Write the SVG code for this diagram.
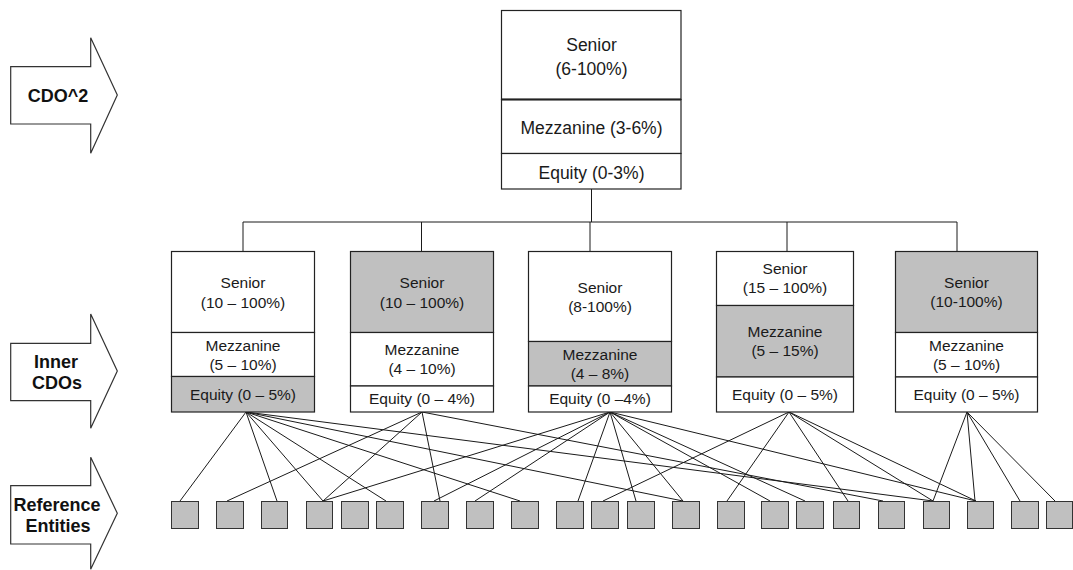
<svg xmlns="http://www.w3.org/2000/svg" width="1073" height="570" viewBox="0 0 1073 570">
<style>
.bx{fill:#ffffff;stroke:#222;stroke-width:1.2}
.g{fill:#c0c0c0;stroke:#222;stroke-width:1.2}
.t{font-family:"Liberation Sans",Arial,sans-serif;font-size:15.5px;fill:#1a1a1a;text-anchor:middle}
.tt{font-family:"Liberation Sans",Arial,sans-serif;font-size:17.5px;fill:#1a1a1a;text-anchor:middle}
.lb{font-family:"Liberation Sans",Arial,sans-serif;font-size:18px;font-weight:bold;fill:#111;text-anchor:middle}
.ar{fill:#fff;stroke:#333;stroke-width:1.2}
.sq{fill:#c0c0c0;stroke:#333;stroke-width:1}
.ln{stroke:#1a1a1a;stroke-width:1;fill:none}
</style>
<rect width="1073" height="570" fill="#fff"/>

<g id="arrow-cdo2">
<polygon class="ar" points="10.7,66.7 90.7,66.7 90.7,37.7 117.3,95 90.7,153.3 90.7,124 10.7,124"/>
<text class="lb" x="58" y="102">CDO^2</text>
</g>
<g id="arrow-inner">
<polygon class="ar" points="10.7,343.3 90.7,343.3 90.7,314 117.3,371 90.7,428.3 90.7,400.7 10.7,400.7"/>
<text class="lb" x="56" y="368">Inner</text>
<text class="lb" x="57" y="389">CDOs</text>
</g>
<g id="arrow-ref">
<polygon class="ar" points="10.7,485.7 90.7,485.7 90.7,457.3 117.3,513.3 90.7,569.3 90.7,544 10.7,544"/>
<text class="lb" x="57" y="511">Reference</text>
<text class="lb" x="58" y="532">Entities</text>
</g>

<g id="connectors">
<line class="ln" x1="591.5" y1="189" x2="591.5" y2="222"/>
<line class="ln" x1="243" y1="222" x2="957" y2="222"/>
<line class="ln" x1="243" y1="222" x2="243" y2="251"/>
<line class="ln" x1="421.5" y1="222" x2="421.5" y2="251"/>
<line class="ln" x1="590" y1="222" x2="590" y2="251"/>
<line class="ln" x1="787" y1="222" x2="787" y2="251"/>
<line class="ln" x1="957" y1="222" x2="957" y2="251"/>
<!-- box1 -->
<line class="ln" x1="246" y1="412" x2="180" y2="501"/>
<line class="ln" x1="246" y1="412" x2="277" y2="501"/>
<line class="ln" x1="246" y1="412" x2="323" y2="501"/>
<line class="ln" x1="246" y1="412" x2="386" y2="501"/>
<line class="ln" x1="246" y1="412" x2="520" y2="501"/>
<line class="ln" x1="246" y1="412" x2="683" y2="501"/>
<line class="ln" x1="246" y1="412" x2="933" y2="501"/>
<!-- box2 -->
<line class="ln" x1="422" y1="412" x2="227" y2="501"/>
<line class="ln" x1="422" y1="412" x2="323" y2="501"/>
<line class="ln" x1="422" y1="412" x2="440" y2="501"/>
<line class="ln" x1="422" y1="412" x2="883" y2="501"/>
<!-- box3 -->
<line class="ln" x1="610" y1="412" x2="323" y2="501"/>
<line class="ln" x1="610" y1="412" x2="434" y2="501"/>
<line class="ln" x1="610" y1="412" x2="475" y2="501"/>
<line class="ln" x1="610" y1="412" x2="578" y2="501"/>
<line class="ln" x1="610" y1="412" x2="636" y2="501"/>
<line class="ln" x1="610" y1="412" x2="683" y2="501"/>
<line class="ln" x1="610" y1="412" x2="770" y2="501"/>
<line class="ln" x1="610" y1="412" x2="805" y2="501"/>
<line class="ln" x1="610" y1="412" x2="976" y2="501"/>
<!-- box4 -->
<line class="ln" x1="789" y1="412" x2="603" y2="501"/>
<line class="ln" x1="789" y1="412" x2="727" y2="501"/>
<line class="ln" x1="789" y1="412" x2="848" y2="501"/>
<line class="ln" x1="789" y1="412" x2="933" y2="501"/>
<line class="ln" x1="789" y1="412" x2="976" y2="501"/>
<!-- box5 -->
<line class="ln" x1="967" y1="412" x2="933" y2="501"/>
<line class="ln" x1="967" y1="412" x2="975" y2="501"/>
<line class="ln" x1="967" y1="412" x2="1020" y2="501"/>
<line class="ln" x1="967" y1="412" x2="1055" y2="501"/>
</g>

<g id="cdo2">
<rect class="bx" x="501.5" y="10.5" width="179.5" height="89"/>
<rect class="bx" x="501.5" y="99.5" width="179.5" height="54"/>
<rect class="bx" x="501.5" y="153.5" width="179.5" height="35.5"/>
<line x1="501.5" y1="99.5" x2="681" y2="99.5" stroke="#222" stroke-width="2"/>
<text class="tt" x="591.5" y="51">Senior</text>
<text class="tt" x="591.5" y="74.5">(6-100%)</text>
<text class="tt" x="591.5" y="134">Mezzanine (3-6%)</text>
<text class="tt" x="591.5" y="178.5">Equity (0-3%)</text>
</g>

<g id="inner1">
<rect class="bx" x="171.5" y="251.5" width="143" height="81"/>
<rect class="bx" x="171.5" y="332.5" width="143" height="44"/>
<rect class="g" x="171.5" y="376.5" width="143" height="35.5"/>
<text class="t" x="243" y="288">Senior</text>
<text class="t" x="243" y="307.5">(10 – 100%)</text>
<text class="t" x="243" y="350.5">Mezzanine</text>
<text class="t" x="243" y="370">(5 – 10%)</text>
<text class="t" x="243" y="399.5">Equity (0 – 5%)</text>
</g>

<g id="inner2">
<rect class="g" x="350.5" y="251.5" width="143" height="81"/>
<rect class="bx" x="350.5" y="332.5" width="143" height="53.5"/>
<rect class="bx" x="350.5" y="386" width="143" height="26"/>
<text class="t" x="422" y="288">Senior</text>
<text class="t" x="422" y="307.5">(10 – 100%)</text>
<text class="t" x="422" y="355">Mezzanine</text>
<text class="t" x="422" y="374">(4 – 10%)</text>
<text class="t" x="422" y="404">Equity (0 – 4%)</text>
</g>

<g id="inner3">
<rect class="bx" x="528.5" y="251.5" width="143" height="90"/>
<rect class="g" x="528.5" y="341.5" width="143" height="44.5"/>
<rect class="bx" x="528.5" y="386" width="143" height="26"/>
<text class="t" x="600" y="293">Senior</text>
<text class="t" x="600" y="312">(8-100%)</text>
<text class="t" x="600" y="360">Mezzanine</text>
<text class="t" x="600" y="379">(4 – 8%)</text>
<text class="t" x="600" y="404">Equity (0 –4%)</text>
</g>

<g id="inner4">
<rect class="bx" x="716.5" y="251.5" width="137" height="54"/>
<rect class="g" x="716.5" y="305.5" width="137" height="71.5"/>
<rect class="bx" x="716.5" y="377" width="137" height="35"/>
<text class="t" x="785" y="274">Senior</text>
<text class="t" x="785" y="293">(15 – 100%)</text>
<text class="t" x="785" y="337">Mezzanine</text>
<text class="t" x="785" y="356">(5 – 15%)</text>
<text class="t" x="785" y="400">Equity (0 – 5%)</text>
</g>

<g id="inner5">
<rect class="g" x="895.5" y="251.5" width="142" height="81"/>
<rect class="bx" x="895.5" y="332.5" width="142" height="44.5"/>
<rect class="bx" x="895.5" y="377" width="142" height="35"/>
<text class="t" x="966.5" y="288">Senior</text>
<text class="t" x="966.5" y="307">(10-100%)</text>
<text class="t" x="966.5" y="351">Mezzanine</text>
<text class="t" x="966.5" y="370">(5 – 10%)</text>
<text class="t" x="966.5" y="400">Equity (0 – 5%)</text>
</g>

<g id="entities">
<rect class="sq" x="171.5" y="501.5" width="27" height="27"/>
<rect class="sq" x="216.5" y="501.5" width="27" height="27"/>
<rect class="sq" x="261.5" y="501.5" width="26" height="27"/>
<rect class="sq" x="306.5" y="501.5" width="26" height="27"/>
<rect class="sq" x="341.5" y="501.5" width="27" height="27"/>
<rect class="sq" x="376.5" y="501.5" width="27" height="27"/>
<rect class="sq" x="421.5" y="501.5" width="27" height="27"/>
<rect class="sq" x="466.5" y="501.5" width="27" height="27"/>
<rect class="sq" x="511.5" y="501.5" width="27" height="27"/>
<rect class="sq" x="556.5" y="501.5" width="27" height="27"/>
<rect class="sq" x="591.5" y="501.5" width="27" height="27"/>
<rect class="sq" x="627.5" y="501.5" width="27" height="27"/>
<rect class="sq" x="672.5" y="501.5" width="27" height="27"/>
<rect class="sq" x="717.5" y="501.5" width="27" height="27"/>
<rect class="sq" x="761.5" y="501.5" width="27" height="27"/>
<rect class="sq" x="796.5" y="501.5" width="27" height="27"/>
<rect class="sq" x="833.5" y="501.5" width="26" height="27"/>
<rect class="sq" x="878.5" y="501.5" width="26" height="27"/>
<rect class="sq" x="923.5" y="501.5" width="26" height="27"/>
<rect class="sq" x="967.5" y="501.5" width="26" height="27"/>
<rect class="sq" x="1011.5" y="501.5" width="27" height="27"/>
<rect class="sq" x="1046.5" y="501.5" width="26" height="27"/>
</g>
</svg>
